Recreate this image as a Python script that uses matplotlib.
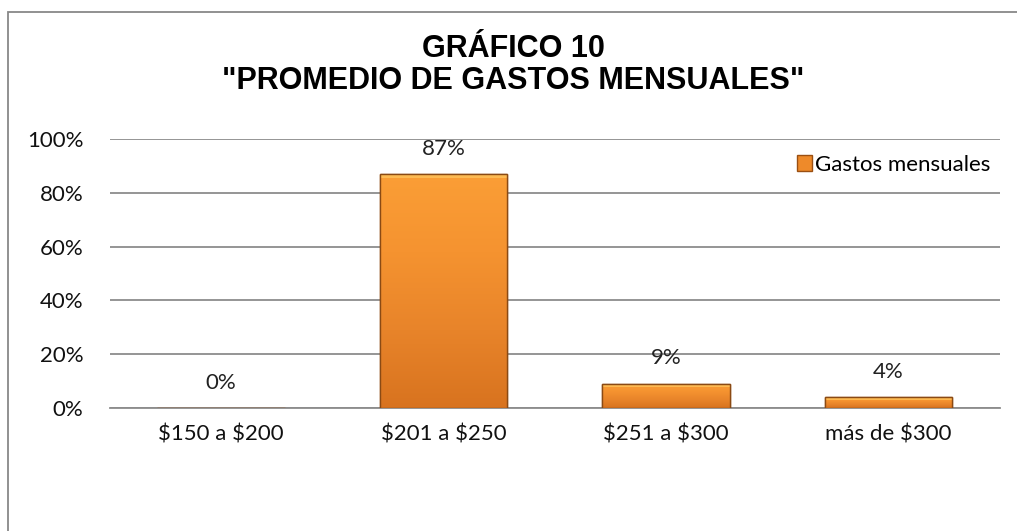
import numpy as np
import matplotlib
matplotlib.use('Agg')
import matplotlib.pyplot as plt
from matplotlib.patches import Rectangle
from matplotlib.colors import LinearSegmentedColormap

# datos del grafico
categorias = ['\\$150 a \\$200', '\\$201 a \\$250', '\\$251 a \\$300', 'más de \\$300']
valores = [0, 87, 9, 4]
etiquetas = ['0%', '87%', '9%', '4%']
ticks_y = [0, 20, 40, 60, 80, 100]
ticks_y_txt = ['0%', '20%', '40%', '60%', '80%', '100%']
serie = 'Gastos mensuales'
titulo = 'GRÁFICO 10\n"PROMEDIO DE GASTOS MENSUALES"'

fuente = ['Lato', 'DejaVu Sans']
plt.rcParams['font.family'] = fuente

fig = plt.figure(figsize=(10.17, 5.31), dpi=100)
ax = fig.add_axes([0.108, 0.232, 0.875, 0.506])

x = np.arange(len(categorias))
ancho = 0.575
barras = ax.bar(x, valores, width=ancho, color='#EE8A2A', edgecolor='#9A4F12',
                linewidth=1.0, zorder=3, label=serie)

# degradado naranja dentro de cada barra (claro arriba, oscuro abajo)
cmap = LinearSegmentedColormap.from_list('naranja', ['#D8731F', '#E8842A', '#F59330', '#FB9E36'])
grad = np.linspace(1, 0, 256).reshape(-1, 1)
for b in barras:
    if b.get_height() <= 0:
        continue
    x0, y0 = b.get_x(), b.get_y()
    w, h = b.get_width(), b.get_height()
    im = ax.imshow(grad, cmap=cmap, aspect='auto', extent=[x0, x0 + w, y0, y0 + h],
                   origin='upper', zorder=3.5, vmin=0, vmax=1)
    im.set_clip_path(b)
    # bisel superior claro
    hb = min(1.3, h * 0.3)
    ax.add_patch(Rectangle((x0, y0 + h - hb), w, hb,
                           facecolor='#FFC25A', edgecolor='none', alpha=0.8, zorder=3.6))
    ax.add_patch(Rectangle((x0, y0), w, h, facecolor='none', edgecolor='#8A4A14',
                           linewidth=1.0, zorder=3.8))

for xi, v, t in zip(x, valores, etiquetas):
    ax.annotate(t, (xi, v), xytext=(0, 11), textcoords='offset points',
                ha='center', va='bottom', fontsize=16, color='#222222')

ax.set_ylim(0, 100)
ax.set_xlim(-0.5, len(categorias) - 0.5)
ax.set_yticks(ticks_y)
ax.set_yticklabels(ticks_y_txt, fontsize=16)
ax.set_xticks(x)
ax.set_xticklabels(categorias, fontsize=16)
ax.tick_params(axis='both', length=0, colors='#111111')
ax.tick_params(axis='x', pad=12)
ax.tick_params(axis='y', pad=19)
ax.grid(axis='y', color='#8C8C8C', linewidth=1.3, zorder=0)
for s in ['top', 'right', 'left']:
    ax.spines[s].set_visible(False)
ax.spines['bottom'].set_color('#8C8C8C')
ax.spines['bottom'].set_linewidth(1.3)

leg = ax.legend(loc='upper right', bbox_to_anchor=(1.0, 0.975), frameon=False, fontsize=16,
                handlelength=0.7, handleheight=0.7, handletextpad=0.15, borderaxespad=0)

fig.text(0.505, 0.877, titulo, ha='center', va='center', fontsize=22, fontweight='bold',
         family=['Liberation Sans', 'DejaVu Sans'], linespacing=1.08)

# marco del grafico
fig.patches.append(Rectangle((8 / 1017, -0.1), 1.2, 1 - 12 / 531 + 0.1, transform=fig.transFigure,
                             facecolor='none', edgecolor='#888888', linewidth=1.3))

fig.savefig('out.png', dpi=100)
